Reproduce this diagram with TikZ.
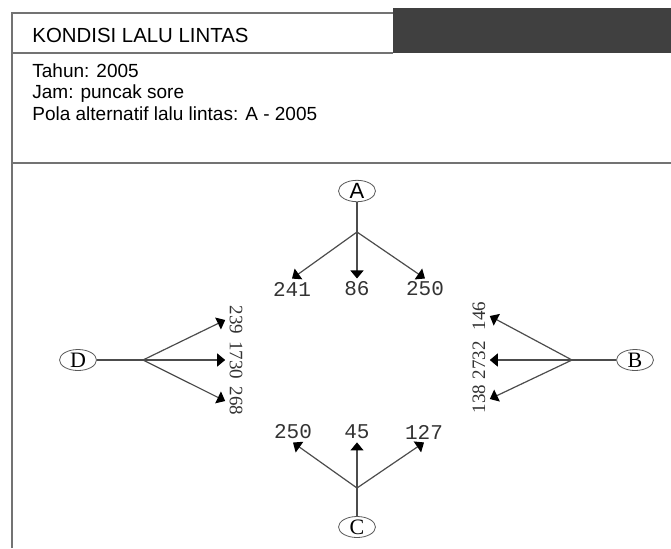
\documentclass[tikz,border=0pt]{standalone}
\usepackage{fontspec}
\setmainfont{Liberation Sans}
\newfontfamily\monofnt{Liberation Mono}
\newfontfamily\seriffnt{Liberation Serif}
\usetikzlibrary{arrows.meta,shapes.geometric}

\begin{document}
\begin{tikzpicture}[x=.5pt,y=-.5pt,
  frame/.style={draw=black!55,line width=.6pt},
  info/.style={anchor=base west,inner sep=0pt,font=\fontsize{9.5}{11}\selectfont},
  stn/.style={draw=black!65,ellipse,inner sep=0pt,minimum width=18.5pt,minimum height=10.5pt,font=\seriffnt\fontsize{11}{12}\selectfont},
  link/.style={draw=black!70,line width=.6pt},
  flow/.style={link,-{Triangle[length=4pt,width=6.5pt,color=black]}},
  numh/.style={inner sep=1.5pt,text=black!80,font=\monofnt\fontsize{10.5}{12}\selectfont},
  numv/.style={inner sep=2pt,text=black!80,font=\seriffnt\fontsize{9.5}{11}\selectfont}]
\useasboundingbox (0,0) rectangle (671,548);
% header and frame
\fill[black!75] (393,8) rectangle (671,53);
\draw[frame] (12,548) -- (12,13) -- (393,13);
\draw[frame] (12,53) -- (393,53);
\draw[frame] (12,163) -- (671,163);
\node[anchor=base west,inner sep=0pt,font=\fontsize{10.2}{12}\selectfont] (title) at (32,42) {KONDISI LALU LINTAS};
\node[info] (tahun) at (32,77) {Tahun: 2005};
\node[info] (jam) at (32,98) {Jam: puncak sore};
\node[info] (pola) at (32,120) {Pola alternatif lalu lintas: A - 2005};
% approaches
\node[stn,font=\fontsize{11}{12}\selectfont] (A) at (357,191) {A};
\node[stn] (B) at (635,360) {B};
\node[stn] (C) at (357,527) {C};
\node[stn] (D) at (78,360) {D};
\coordinate (jA) at (357,232);
\coordinate (jB) at (572,360);
\coordinate (jC) at (357,488);
\coordinate (jD) at (143,360);
% turning volumes
\node[numh] (qa1) at (292,289) {241};
\node[numh] (qa2) at (357,289) {86};
\node[numh] (qa3) at (425,289) {250};
\node[numh] (qc1) at (293,432) {250};
\node[numh] (qc2) at (357,432) {45};
\node[numh] (qc3) at (424,432) {127};
\node[numv,rotate=-90] (qd1) at (236,320) {239};
\node[numv,rotate=-90] (qd2) at (236,360) {1730};
\node[numv,rotate=-90] (qd3) at (236,401) {268};
\node[numv,rotate=90] (qb1) at (479,316) {146};
\node[numv,rotate=90] (qb2) at (479,360) {2732};
\node[numv,rotate=90] (qb3) at (479,399) {138};
\draw[link] (A) -- (jA);
\draw[flow] (jA) -- (qa1.north);
\draw[flow] (jA) -- (qa2.north);
\draw[flow] (jA) -- (qa3.north);
\draw[link] (C) -- (jC);
\draw[flow] (jC) -- (qc1.south);
\draw[flow] (jC) -- (qc2.south);
\draw[flow] (jC) -- (qc3.south);
\draw[link] (D) -- (jD);
\draw[flow] (jD) -- (qd1.south);
\draw[flow] (jD) -- (qd2.south);
\draw[flow] (jD) -- (qd3.south);
\draw[link] (B) -- (jB);
\draw[flow] (jB) -- (qb1.south);
\draw[flow] (jB) -- (qb2.south);
\draw[flow] (jB) -- (qb3.south);
\end{tikzpicture}
\end{document}
